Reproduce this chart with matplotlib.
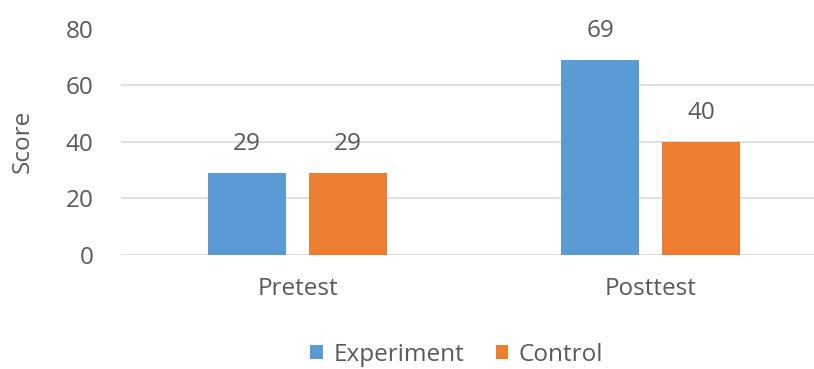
import matplotlib.pyplot as plt
import numpy as np

categories = ["Pretest", "Posttest"]
experiment = [29, 69]
control = [29, 40]
series_names = ["Experiment", "Control"]

plt.rcParams['font.family'] = ['Open Sans', 'DejaVu Sans']
text_col = "#595959"
fs = 17.5

fig = plt.figure(figsize=(8.14, 3.69), dpi=100)
ax = fig.add_axes([121 / 814, 1 - 255 / 369, 1 - 121 / 814, (255 - 28.5) / 369])

x = np.arange(len(categories))
off = 0.143
w = 0.221
b1 = ax.bar(x - off, experiment, w, color="#5B9BD5", label=series_names[0], zorder=3)
b2 = ax.bar(x + off, control, w, color="#ED7D31", label=series_names[1], zorder=3)

# value labels above the bars
for bars in (b1, b2):
    for rect in bars:
        h = rect.get_height()
        ax.annotate(f"{h:g}", (rect.get_x() + rect.get_width() / 2, h),
                    xytext=(0, 12), textcoords="offset points", ha="center", va="bottom",
                    fontsize=fs, color=text_col)

ax.set_ylim(0, 80)
ax.set_xlim(-0.5, 1.5 - 13 / 353)
ax.set_yticks(range(0, 81, 20))
ax.set_xticks(x)
ax.set_xticklabels(categories)
ax.tick_params(axis="both", length=0, labelsize=fs, colors=text_col)
ax.tick_params(axis="y", pad=20)
ax.tick_params(axis="x", pad=16)
ax.grid(axis="y", color="#D9D9D9", linewidth=1.2, zorder=0)
for s in ax.spines.values():
    s.set_visible(False)
ax.set_ylabel("Score", fontsize=fs, color=text_col, labelpad=22)

fig.legend(loc="center", bbox_to_anchor=(0.5614, 0.038), ncol=2, frameon=False,
           fontsize=fs, handlelength=0.5, handleheight=0.5, handletextpad=0.45,
           columnspacing=1.3, labelcolor=text_col)

plt.savefig("out.png", dpi=100)
